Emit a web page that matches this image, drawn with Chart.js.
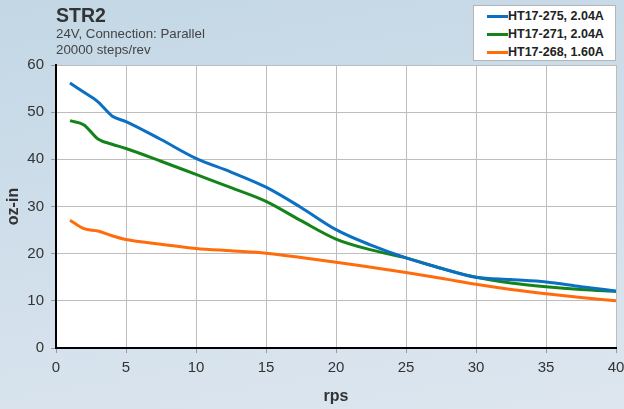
<!DOCTYPE html>
<html>
<head>
<meta charset="utf-8">
<script src="https://cdn.jsdelivr.net/npm/chart.js@4.4.0/dist/chart.umd.min.js"></script>
<style>
  html, body { margin:0; padding:0; }
  body {
    width:624px; height:409px; overflow:hidden; position:relative;
    background: linear-gradient(170deg, #c3d7e5 0%, #cfdeea 45%, #dde6ef 100%);
    font-family: "Liberation Sans", Arial, sans-serif;
  }
  #wrap { position:absolute; left:0; top:0; width:624px; height:409px; }
  #title { position:absolute; left:56px; top:4px; font-size:19.5px; font-weight:bold; color:#333; }
  #sub { position:absolute; left:56px; top:26px; font-size:13.3px; line-height:16px; color:#444; }
  #legend {
    position:absolute; left:473px; top:5px; width:143px; height:56px;
    background:#fff; border:1px solid #b5b5b5; box-sizing:border-box;
    padding:1px 0 0 13px;
  }
  .li { display:flex; align-items:center; height:18px; font-size:12.5px; font-weight:bold; color:#222; }
  .sw { width:21px; height:3px; margin-right:0px; }
</style>
</head>
<body>
<div id="wrap"><canvas id="c" width="624" height="409"></canvas></div>
<div id="title">STR2</div>
<div id="sub">24V, Connection: Parallel<br>20000 steps/rev</div>
<div id="legend"></div>
<script>
const seriesNames = ["HT17-275, 2.04A", "HT17-271, 2.04A", "HT17-268, 1.60A"];
const seriesColors = ["#0b70c4", "#14831a", "#ff6c0c"];

const blueX = [1, 2, 3, 4, 5, 7.5, 10, 12.5, 15, 17.5, 20, 22.5, 25, 27.5, 30, 32.5, 35, 37.5, 40];
const blueY = [56.2, 54.2, 52.2, 49.2, 48.0, 44.2, 40.2, 37.3, 34.1, 29.8, 25.1, 21.8, 19.1, 16.9, 15.0, 14.5, 14.0, 13.0, 12.1];

const greenX = [1, 2, 3, 4, 5, 7.5, 10, 12.5, 15, 17.5, 20, 22.5, 25, 27.5, 30, 32.5, 35, 37.5, 40];
const greenY = [48.2, 47.3, 44.3, 43.2, 42.3, 39.6, 36.8, 34.0, 31.1, 27.0, 23.1, 20.8, 19.1, 16.9, 15.0, 13.8, 13.0, 12.4, 12.0];

const orangeX = [1, 2, 3, 4, 5, 7.5, 10, 12.5, 15, 17.5, 20, 22.5, 25, 27.5, 30, 32.5, 35, 37.5, 40];
const orangeY = [27.1, 25.3, 24.8, 23.8, 23.0, 22.0, 21.1, 20.6, 20.1, 19.2, 18.2, 17.1, 16.0, 14.8, 13.5, 12.4, 11.5, 10.7, 10.0];

const xTicks = [0, 5, 10, 15, 20, 25, 30, 35, 40];
const yTicks = [0, 10, 20, 30, 40, 50, 60];

const xs = [blueX, greenX, orangeX];
const ys = [blueY, greenY, orangeY];

const leg = document.getElementById('legend');
seriesNames.forEach((n, i) => {
  const d = document.createElement('div'); d.className = 'li';
  const s = document.createElement('span'); s.className = 'sw'; s.style.background = seriesColors[i];
  d.appendChild(s); d.appendChild(document.createTextNode(n)); leg.appendChild(d);
});

const datasets = seriesNames.map((n, i) => ({
  label: n,
  data: xs[i].map((x, j) => ({x: x, y: ys[i][j]})),
  borderColor: seriesColors[i],
  backgroundColor: seriesColors[i],
  borderWidth: 3,
  pointRadius: 0,
  cubicInterpolationMode: 'monotone',
  fill: false
}));

const plotBg = {
  id: 'plotBg',
  beforeDraw(chart) {
    const {ctx, chartArea: a} = chart;
    ctx.save(); ctx.fillStyle = '#ffffff';
    ctx.fillRect(a.left, a.top, a.right - a.left, a.bottom - a.top);
    ctx.restore();
  }
};

new Chart(document.getElementById('c'), {
  type: 'line',
  data: { datasets },
  plugins: [plotBg],
  options: {
    responsive: false,
    animation: false,
    layout: { padding: { top: 65, right: 8, left: 0, bottom: 0 } },
    plugins: { legend: { display: false }, title: { display: false }, tooltip: { enabled: false } },
    scales: {
      x: {
        type: 'linear', min: 0, max: 40,
        afterBuildTicks: s => { s.ticks = xTicks.map(v => ({value: v})); },
        grid: { color: '#bdbdbd', lineWidth: 1, tickLength: 5, tickColor: '#999' },
        border: { color: '#000', width: 2 },
        ticks: { color: '#333', font: { family: 'Liberation Sans', size: 15 }, padding: 6, maxRotation: 0 },
        title: { display: true, text: 'rps', color: '#333', font: { family: 'Liberation Sans', size: 16, weight: 'bold' }, padding: { top: 6, bottom: 3 } },
        afterFit: s => { s.height = 61; s.paddingLeft = 0; s.paddingRight = 0; }
      },
      y: {
        type: 'linear', min: 0, max: 60,
        afterBuildTicks: s => { s.ticks = yTicks.map(v => ({value: v})); },
        grid: { color: '#bdbdbd', lineWidth: 1, tickLength: 5, tickColor: '#999' },
        border: { color: '#000', width: 2 },
        ticks: { color: '#333', font: { family: 'Liberation Sans', size: 15 }, padding: 7 },
        title: { display: true, text: 'oz-in', color: '#333', font: { family: 'Liberation Sans', size: 16, weight: 'bold' }, padding: { top: 4, bottom: 4 } },
        afterFit: s => { s.width = 56; s.paddingTop = 0; s.paddingBottom = 0; }
      }
    }
  }
});
</script>
</body>
</html>
